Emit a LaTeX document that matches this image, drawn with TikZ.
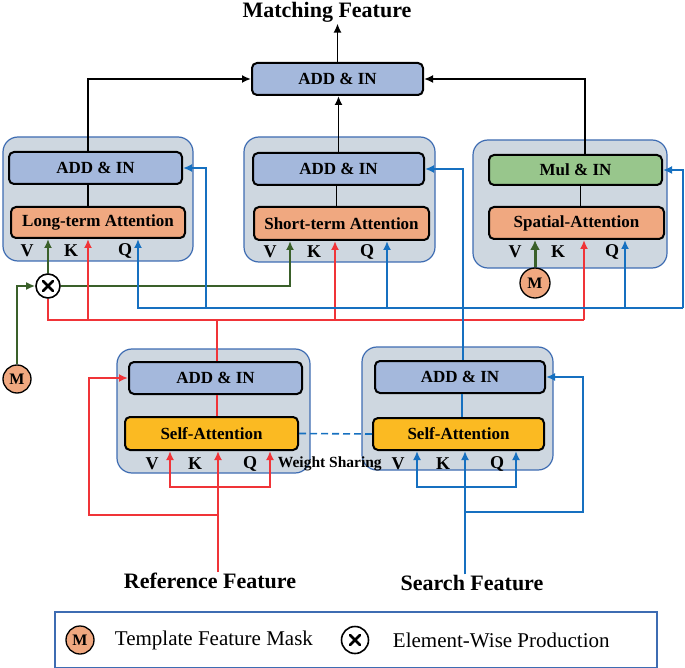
\documentclass[tikz,border=0pt]{standalone}
\usepackage{fontspec}
\setmainfont{Liberation Serif}
\usetikzlibrary{arrows.meta,positioning}
\definecolor{bgfill}{RGB}{206,215,224}
\definecolor{bgline}{RGB}{62,108,178}
\definecolor{addfill}{RGB}{164,184,220}
\definecolor{attfill}{RGB}{240,168,128}
\definecolor{mulfill}{RGB}{152,198,140}
\definecolor{selffill}{RGB}{251,186,34}
\definecolor{redl}{RGB}{240,52,56}
\definecolor{bluel}{RGB}{22,112,192}
\definecolor{grnl}{RGB}{58,96,42}
\tikzset{
modbg/.style 2 args={
  draw=bgline,
  fill=bgfill,
  line width=1.2pt,
  rounded corners=15pt,
  minimum width=#1,
  minimum height=#2,
  inner sep=0pt
  },
blk/.style 2 args={
  draw=black,
  line width=2pt,
  rounded corners=5pt,
  inner sep=0pt,
  minimum width=#1,
  minimum height=#2,
  font=\fontsize{17}{18}\selectfont\bfseries
  },
kqv/.style={inner sep=0pt,font=\fontsize{18}{18}\selectfont\bfseries},
ttl/.style={inner sep=0pt,font=\fontsize{22}{24}\selectfont\bfseries},
legtxt/.style={inner sep=0pt,font=\fontsize{21}{24}\selectfont},
mcirc/.style={circle,draw=black,fill=attfill,line width=1.3pt,inner sep=0pt,
  minimum size=28pt,font=\fontsize{16}{16}\selectfont\bfseries},
mulnode/.style={circle,draw=black,fill=white,line width=1.6pt,inner sep=0pt,
  minimum size=24pt,
  path picture={
    \draw[line width=2.6pt,line cap=round]
      ([shift={(-5pt,-5pt)}]path picture bounding box.center) --
      ([shift={(5pt,5pt)}]path picture bounding box.center)
      ([shift={(-5pt,5pt)}]path picture bounding box.center) --
      ([shift={(5pt,-5pt)}]path picture bounding box.center);}},
rl/.style={draw=redl,line width=1.9pt},
bl/.style={draw=bluel,line width=1.9pt},
gl/.style={draw=grnl,line width=1.9pt}
}

\begin{document}
\begin{tikzpicture}[x=1pt,y=-1pt,>={Latex[length=9pt,width=8pt]},line width=1.9pt]
\useasboundingbox (0,0) rectangle (685,668);

\node[modbg={190pt}{124pt}] (ltbg) at (98,199) {};
\node[modbg={191pt}{125pt}] (stbg) at (339.5,199.5) {};
\node[modbg={194pt}{128pt}] (spbg) at (570,204) {};
\node[modbg={193pt}{124pt}] (refbg) at (213.5,411) {};
\node[modbg={191pt}{123pt}] (srchbg) at (457.5,408.5) {};

\node[blk={171pt}{32pt},fill=addfill] (topadd) at (337.5,79) {ADD \& IN};
\node[ttl] (matchlbl) at (327,12.5) {Matching Feature};

\node[blk={173pt}{32pt},fill=addfill] (ltadd) at (95.5,168) {ADD \& IN};
\node[blk={174pt}{31pt},fill=attfill] (ltatt) at (98,222.5) {Long-term Attention};
\node[blk={171pt}{32pt},fill=addfill] (stadd) at (338.5,169) {ADD \& IN};
\node[blk={175pt}{33pt},fill=attfill] (statt) at (341.5,223.5) {Short-term Attention};
\node[blk={173pt}{30pt},fill=mulfill] (spmul) at (575.5,170) {Mul \& IN};
\node[blk={175pt}{32pt},fill=attfill] (spatt) at (576.5,223) {Spatial-Attention};
\node[blk={173pt}{32pt},fill=addfill] (refadd) at (215.5,378) {ADD \& IN};
\node[blk={173pt}{33pt},fill=selffill] (refatt) at (211.5,433.5) {Self-Attention};
\node[blk={170pt}{32pt},fill=addfill] (srchadd) at (460,377) {ADD \& IN};
\node[blk={171pt}{32pt},fill=selffill] (srchatt) at (458.5,434) {Self-Attention};

\node[kqv] (ltv) at (27,251) {V};
\node[kqv] (ltk) at (71,251) {K};
\node[kqv] (ltq) at (125,251) {Q};
\node[kqv] (stv) at (270,252) {V};
\node[kqv] (stk) at (314,252) {K};
\node[kqv] (stq) at (367,252) {Q};
\node[kqv] (spv) at (515,252) {V};
\node[kqv] (spk) at (558,252) {K};
\node[kqv] (spq) at (612,252) {Q};
\node[kqv] (refv) at (152,464) {V};
\node[kqv] (refk) at (195,464) {K};
\node[kqv] (refq) at (250,464) {Q};
\node[kqv] (srchv) at (398,464) {V};
\node[kqv] (srchk) at (443,464) {K};
\node[kqv] (srchq) at (497,464) {Q};
\node[inner sep=0pt,anchor=west,font=\fontsize{15.5}{16}\selectfont\bfseries]
  (wshare) at (277,464) {Weight Sharing};

\node[ttl] (reffeat) at (210,581) {Reference Feature};
\node[ttl] (srchfeat) at (472,583) {Search Feature};

\node[mulnode] (mult) at (48,286) {};
\node[mcirc] (mleft) at (17,379) {M};
\node[mcirc,minimum size=30pt] (mright) at (535,283) {M};

\draw[->] (topadd.north) -- (topadd.north |- matchlbl.south);
\draw[->] ([xshift=-7.5pt]ltadd.north) |- (topadd.west);
\draw[->] (stadd.north) -- (stadd.north |- topadd.south);
\draw[->] ([xshift=9.5pt]spmul.north) |- (topadd.east);
\draw ([xshift=-7.5pt]ltadd.south) -- ([xshift=-7.5pt]ltadd.south |- ltatt.north);
\draw ([xshift=-2pt]stadd.south) -- ([xshift=-2pt]stadd.south |- statt.north);
\draw ([xshift=5pt]spmul.south) -- ([xshift=5pt]spmul.south |- spatt.north);

\draw[gl,->] (mleft.north) |- (mult.west);
\draw[gl,->] (mult.north) -- (mult.north |- ltatt.south);
\draw[gl,->] (mult.east) -| ([xshift=-51.5pt]statt.south);
\draw[gl,line width=3pt,-{Latex[length=10pt,width=10pt]}] (mright.north) -- (mright.north |- spatt.south);

\coordinate (rk1) at (88,320);
\coordinate (rk2) at (335,320);
\coordinate (rk3) at (584,320);
\draw[rl] (mult.south) |- (rk3);
\draw[rl,->] (rk1) -- (rk1 |- ltatt.south);
\draw[rl,->] (rk2) -- (rk2 |- statt.south);
\draw[rl,->] (rk3) -- (rk3 |- spatt.south);
\draw[rl] ([xshift=1.5pt]refadd.north) -- ([xshift=1.5pt]refadd.north |- rk1);

\coordinate (bq1) at (138,308);
\coordinate (bq2) at (206,308);
\coordinate (bq3) at (387,308);
\coordinate (bq4) at (625,308);
\coordinate (bq5) at (683,308);
\draw[bl,->] (bq5) -- (bq1) -- (bq1 |- ltatt.south);
\draw[bl,->] (bq5) |- (spmul.east);
\draw[bl,->] (bq2) |- (ltadd.east);
\draw[bl,->] (bq3) -- (bq3 |- statt.south);
\draw[bl,->] (bq4) -- (bq4 |- spatt.south);
\draw[bl,->] ([xshift=3pt]srchadd.north) |- (stadd.east);

\coordinate (rb1) at (170,487);
\coordinate (rb2) at (270,487);
\coordinate (rloop) at (89,515);
\draw[rl,->] ([xshift=8pt]reffeat.north) -- ([xshift=8pt]reffeat.north |- refatt.south);
\draw[rl,->] ([xshift=8pt]reffeat.north |- rb1) -| (rb1 |- refatt.south);
\draw[rl,->] ([xshift=8pt]reffeat.north |- rb1) -| (rb2 |- refatt.south);
\draw[rl,->] ([xshift=8pt]reffeat.north |- rloop) -- (rloop) |- (refadd.west);
\draw[rl] ([xshift=1.5pt]refadd.south) -- ([xshift=1.5pt]refadd.south |- refatt.north);

\coordinate (sb1) at (417,487);
\coordinate (sb2) at (516,487);
\coordinate (sloop) at (583,512);
\draw[bl,->] ([xshift=-7pt]srchfeat.north) -- ([xshift=-7pt]srchfeat.north |- srchatt.south);
\draw[bl,->] ([xshift=-7pt]srchfeat.north |- sb1) -| (sb1 |- srchatt.south);
\draw[bl,->] ([xshift=-7pt]srchfeat.north |- sb1) -| (sb2 |- srchatt.south);
\draw[bl,->] ([xshift=-7pt]srchfeat.north |- sloop) -- (sloop) |- (srchadd.east);
\draw[bl] ([xshift=2pt]srchadd.south) -- ([xshift=2pt]srchadd.south |- srchatt.north);

\draw[bl,line width=1.6pt,dash pattern=on 7pt off 4pt] (refatt.east) -- (srchatt.west);

\node[draw=bgline,line width=1.2pt,minimum width=602pt,minimum height=56pt,inner sep=0pt]
  (legend) at (356,640) {};
\node[mcirc] (mleg) at (80,640) {M};
\node[legtxt,anchor=west] (legm) at (114,640) {Template Feature Mask};
\node[mulnode,minimum size=27pt] (legx) at (355,640) {};
\node[legtxt,anchor=west] (legxt) at (392,640) {Element-Wise Production};

\end{tikzpicture}
\end{document}
